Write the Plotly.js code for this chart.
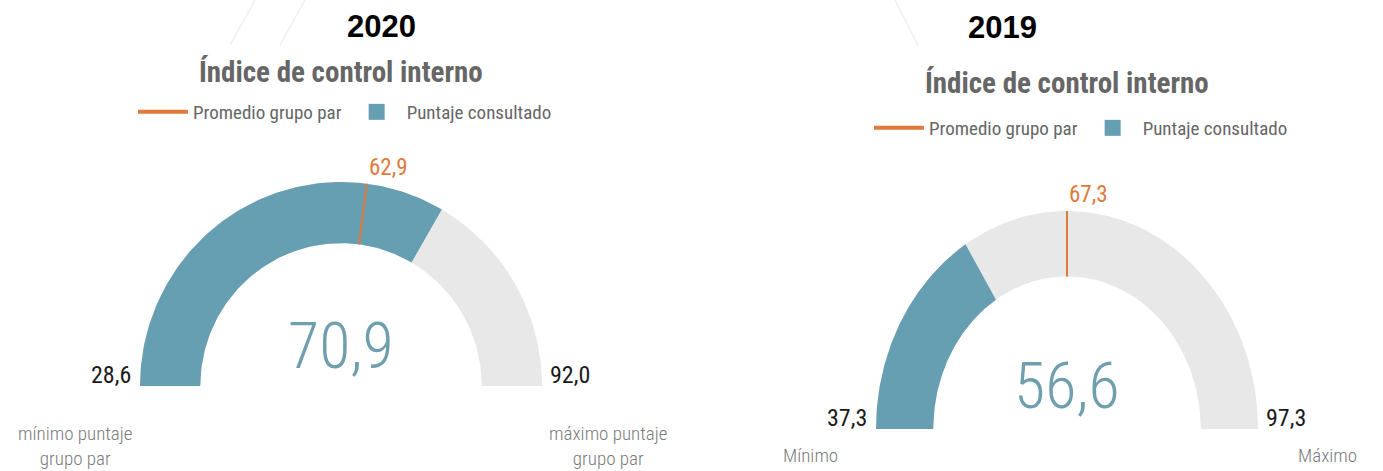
<!DOCTYPE html>
<html>
<head>
<meta charset="utf-8">
<script src="https://cdn.plot.ly/plotly-3.0.1.min.js"></script>
<style>html,body{margin:0;padding:0;background:#fff;}#chart{width:1383px;height:471px;}</style>
</head>
<body>
<div id="chart"></div>
<script>
// ---- data ----
const years = ["2020", "2019"];
const chartTitle = "Índice de control interno";
const scoreValues = [70.9, 56.6];      // Puntaje consultado
const peerAverage = [62.9, 67.3];      // Promedio grupo par
const minValues = [28.6, 37.3];
const maxValues = [92.0, 97.3];
const minLabels = ["mínimo puntaje<br>grupo par", "Mínimo"];
const maxLabels = ["máximo puntaje<br>grupo par", "Máximo"];
const legendNames = ["Promedio grupo par", "Puntaje consultado"];

// ---- style / layout config ----
const W = 1383, H = 471;
const TEAL = "#669fb2", GREY = "#e8e8e8", ORANGE = "#e07a3c", VALTXT = "#6f9fae";
const NARROW = "Roboto Condensed, Liberation Sans Narrow, DejaVu Sans Condensed, sans-serif";
const INNER = 0.70;
const gauges = [
  {cx: 341, by: 386, rx: 201, ry: 204, valY: 0.0, titleY: 72, yearX: 381, yearY: 27,
   legendX: 133, legendY: 112, minLab: {x: 75, y: 446}, maxLab: {x: 608, y: 446}},
  {cx: 1067, by: 429, rx: 191, ry: 218, valY: 0.014, titleY: 83, yearX: 1002, yearY: 28,
   legendX: 869, legendY: 128, minLab: {x: 811, y: 455}, maxLab: {x: 1327, y: 455}}
];

const fmt = v => v.toFixed(1).replace(".", ",");

function angleOf(v, lo, hi) { return Math.PI * (1 - (v - lo) / (hi - lo)); }
function band(v0, v1, lo, hi, rIn, rOut) {
  const xs = [], ys = [], n = 120;
  for (let i = 0; i <= n; i++) {
    const a = angleOf(v0 + (v1 - v0) * i / n, lo, hi);
    xs.push(rOut * Math.cos(a)); ys.push(rOut * Math.sin(a));
  }
  for (let i = n; i >= 0; i--) {
    const a = angleOf(v0 + (v1 - v0) * i / n, lo, hi);
    xs.push(rIn * Math.cos(a)); ys.push(rIn * Math.sin(a));
  }
  xs.push(xs[0]); ys.push(ys[0]);
  return {x: xs, y: ys};
}

const traces = [], annotations = [], layoutAxes = {};
const PAD = 0.12;

gauges.forEach((g, i) => {
  const ax = i === 0 ? "" : "2";
  const xa = "x" + ax, ya = "y" + ax;
  const lo = minValues[i], hi = maxValues[i];
  const lg = i === 0 ? "legend" : "legend2";

  const bg = band(lo, hi, lo, hi, INNER, 1);
  traces.push({type: "scatter", mode: "lines", x: bg.x, y: bg.y, xaxis: xa, yaxis: ya,
    fill: "toself", fillcolor: GREY, line: {width: 0, color: GREY}, showlegend: false, hoverinfo: "skip"});
  const fg = band(lo, scoreValues[i], lo, hi, INNER, 1);
  traces.push({type: "scatter", mode: "lines", x: fg.x, y: fg.y, xaxis: xa, yaxis: ya,
    fill: "toself", fillcolor: TEAL, line: {width: 0, color: TEAL}, showlegend: false, hoverinfo: "skip"});
  const ta = angleOf(peerAverage[i], lo, hi);
  traces.push({type: "scatter", mode: "lines",
    x: [INNER * Math.cos(ta), Math.cos(ta)], y: [INNER * Math.sin(ta), Math.sin(ta)],
    xaxis: xa, yaxis: ya, line: {color: ORANGE, width: 2}, showlegend: false, hoverinfo: "skip"});
  // legend-only entries (a single empty point, nothing drawn)
  traces.push({type: "scatter", mode: "lines", x: [null], y: [null], xaxis: xa, yaxis: ya,
    name: legendNames[0], legend: lg, legendrank: 1, showlegend: true, line: {color: ORANGE, width: 4}, hoverinfo: "skip"});
  traces.push({type: "scatter", mode: "markers", x: [null], y: [null], xaxis: xa, yaxis: ya,
    name: legendNames[1], legend: lg, legendrank: 2, showlegend: true, hoverinfo: "skip",
    marker: {symbol: "square", size: 16, color: TEAL}});

  // axes
  const xr = [-1 - PAD, 1 + PAD], yr = [-PAD, 1 + PAD];
  const xd = [(g.cx - g.rx * (1 + PAD)) / W, (g.cx + g.rx * (1 + PAD)) / W];
  const yd = [(H - g.by - g.ry * PAD) / H, (H - g.by + g.ry * (1 + PAD)) / H];
  const axBase = {showgrid: false, zeroline: false, showticklabels: false, ticks: "", fixedrange: true, showline: false};
  layoutAxes["xaxis" + ax] = Object.assign({}, axBase, {range: xr, domain: xd, anchor: ya});
  layoutAxes["yaxis" + ax] = Object.assign({}, axBase, {range: yr, domain: yd, anchor: xa});

  // labels
  annotations.push({xref: xa, yref: ya, x: -1, y: 0, xanchor: "right", yanchor: "bottom", xshift: -7, yshift: -5,
    text: fmt(lo), showarrow: false, font: {family: NARROW, size: 24, color: "#1a1a1a"}});
  annotations.push({xref: xa, yref: ya, x: 1, y: 0, xanchor: "left", yanchor: "bottom", xshift: 6, yshift: -5,
    text: fmt(hi), showarrow: false, font: {family: NARROW, size: 24, color: "#1a1a1a"}});
  annotations.push({xref: xa, yref: ya, x: Math.cos(ta), y: Math.sin(ta), xanchor: "left", yanchor: "bottom",
    xshift: 0, yshift: 1, text: fmt(peerAverage[i]), showarrow: false, font: {family: NARROW, size: 23, color: ORANGE}});
  annotations.push({xref: xa, yref: ya, x: 0, y: g.valY, xanchor: "center", yanchor: "bottom",
    text: fmt(scoreValues[i]), showarrow: false, font: {family: NARROW, size: 64, color: VALTXT, weight: 300}});
  annotations.push({xref: "paper", yref: "paper", x: g.cx / W, y: 1 - g.titleY / H, xanchor: "center", yanchor: "middle",
    text: "<b>" + chartTitle + "</b>", showarrow: false, font: {family: NARROW, size: 29, color: "#666666"}});
  annotations.push({xref: "paper", yref: "paper", x: g.yearX / W, y: 1 - g.yearY / H, xanchor: "center", yanchor: "middle",
    text: "<b>" + years[i] + "</b>", showarrow: false, font: {family: "Liberation Sans, Arial, sans-serif", size: 31, color: "#000"}});
  annotations.push({xref: "paper", yref: "paper", x: g.minLab.x / W, y: 1 - g.minLab.y / H, xanchor: "center", yanchor: "middle",
    text: minLabels[i], showarrow: false, font: {family: NARROW, size: 19, color: "#7a7a7a", weight: 300}});
  annotations.push({xref: "paper", yref: "paper", x: g.maxLab.x / W, y: 1 - g.maxLab.y / H, xanchor: "center", yanchor: "middle",
    text: maxLabels[i], showarrow: false, font: {family: NARROW, size: 19, color: "#7a7a7a", weight: 300}});
});

const legendBase = {orientation: "h", xanchor: "left", yanchor: "middle", bgcolor: "rgba(0,0,0,0)",
  font: {family: "Liberation Sans Narrow, Roboto Condensed, sans-serif", size: 19, color: "#666666"},
  itemwidth: 50, traceorder: "normal"};

const layout = Object.assign({
  width: W, height: H, margin: {l: 0, r: 0, t: 0, b: 0},
  paper_bgcolor: "#ffffff", plot_bgcolor: "rgba(0,0,0,0)",
  separators: ",.",
  showlegend: true,
  legend: Object.assign({}, legendBase, {x: gauges[0].legendX / W, y: 1 - gauges[0].legendY / H}),
  legend2: Object.assign({}, legendBase, {x: gauges[1].legendX / W, y: 1 - gauges[1].legendY / H}),
  annotations: annotations,
  shapes: [
    {type: "line", xref: "paper", yref: "paper", x0: 230 / W, y0: 1 - 45 / H, x1: 255 / W, y1: 1, line: {color: "#efefef", width: 1.5}},
    {type: "line", xref: "paper", yref: "paper", x0: 280 / W, y0: 1 - 45 / H, x1: 305 / W, y1: 1, line: {color: "#efefef", width: 1.5}},
    {type: "line", xref: "paper", yref: "paper", x0: 895 / W, y0: 1, x1: 918 / W, y1: 1 - 45 / H, line: {color: "#efefef", width: 1.5}}
  ]
}, layoutAxes);

Plotly.newPlot("chart", traces, layout, {displayModeBar: false, staticPlot: true});
</script>
</body>
</html>
